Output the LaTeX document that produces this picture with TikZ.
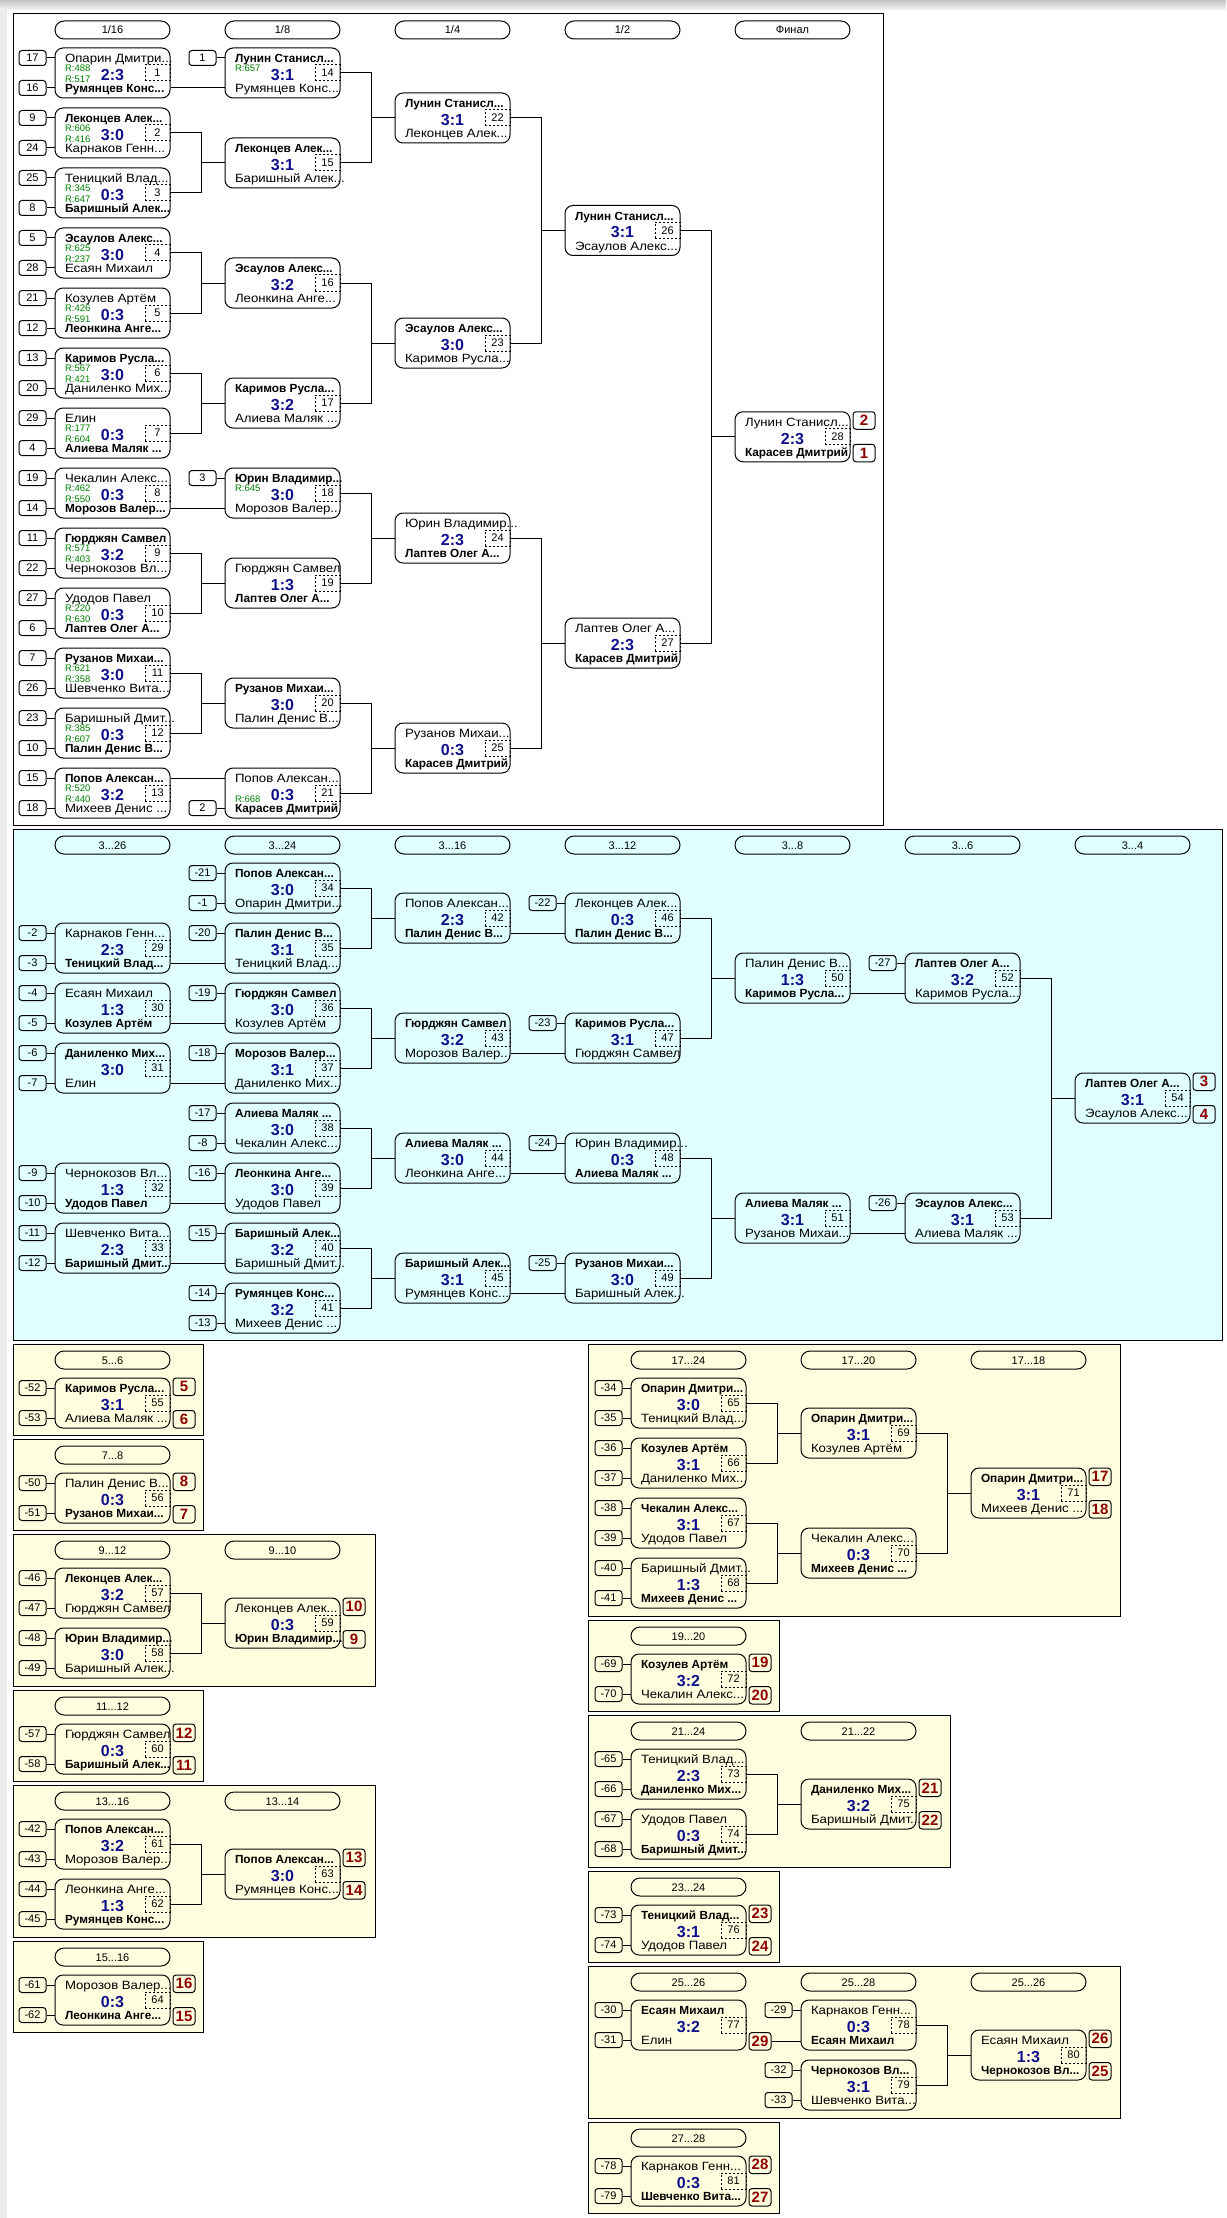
\documentclass[tikz,border=0pt]{standalone}
\usepackage{fontspec}
\setmainfont{Liberation Sans}
\newfontfamily\namefont[FakeStretch=1.1]{Liberation Sans}
\usepackage{tikz}
\usetikzlibrary{positioning, calc}

\definecolor{scoreblue}{RGB}{16,16,140}
\definecolor{rategreen}{RGB}{0,128,0}
\definecolor{placered}{RGB}{140,0,0}
\definecolor{lbcyan}{RGB}{224,255,255}
\definecolor{lowyellow}{RGB}{255,255,224}

\newcommand\wn[1]{{\normalfont\bfseries\fontsize{11.8}{13}\selectfont #1}}
% match: id, centre, top player, rating, score, rating, bottom player
\newcommand\match[7]{
  \node[mbox] (m#1) at #2 {};
  \node[pname] (m#1t) at ([xshift=10pt,yshift=14.5pt]m#1.west) {#3};
  \node[rate] (m#1x) at ([xshift=10pt,yshift=5pt]m#1.west) {#4};
  \node[score] (m#1s) at ([yshift=-2pt]m#1.center) {#5};
  \node[rate] (m#1y) at ([xshift=10pt,yshift=-5.7pt]m#1.west) {#6};
  \node[pname] (m#1b) at ([xshift=10pt,yshift=-15.5pt]m#1.west) {#7};
  \node[mnum, anchor=east] (m#1n) at (m#1.east) {#1};
}
\newcommand\seedt[2]{
  \node[seed, anchor=east] (s#1t) at ([xshift=-8pt,yshift=15pt]m#1.west) {#2};
  \draw (s#1t) -- (s#1t -| m#1.west);
}
\newcommand\seedb[2]{
  \node[seed, anchor=east] (s#1b) at ([xshift=-8pt,yshift=-15pt]m#1.west) {#2};
  \draw (s#1b) -- (s#1b -| m#1.west);
}
\newcommand\seeds[3]{\seedt{#1}{#2}\seedb{#1}{#3}}
\newcommand\places[3]{
  \node[plc, anchor=north west] (p#2) at ([xshift=2pt]m#1.north east) {#2};
  \node[plc, anchor=south west] (p#3) at ([xshift=2pt]m#1.south east) {#3};
}
% two matches into one
\newcommand\brk[3]{
  \draw (m#1.east) -| ([xshift=-23pt]m#3.west) |- (m#2.east);
  \draw ([xshift=-23pt]m#3.west) -- (m#3.west);
}
\newcommand\drct[3]{\draw ([yshift=#3]m#1.east) -- ([yshift=#3]m#2.west);}

\begin{document}
\begin{tikzpicture}[x=1pt, y=-1pt, line width=1pt,
    mbox/.style={draw, rounded corners=8pt, minimum width=115pt, minimum height=50pt, inner sep=0pt},
    pname/.style={anchor=west, inner sep=0pt, text height=8.6pt, text depth=0pt, font=\namefont\fontsize{12}{13}\selectfont},
    rate/.style={anchor=west, inner sep=0pt, text height=6.8pt, text depth=0pt, text=rategreen, font=\fontsize{9.5}{10}\selectfont},
    score/.style={inner sep=0pt, text=scoreblue, font=\bfseries\fontsize{16}{16}\selectfont},
    mnum/.style={draw, dash pattern=on 2pt off 2pt, minimum width=25pt, minimum height=16pt, inner sep=0pt, font=\fontsize{11}{12}\selectfont},
    seed/.style={draw, rounded corners=3pt, minimum width=27pt, minimum height=15pt, inner sep=0pt, font=\fontsize{11}{12}\selectfont},
    plc/.style={draw, rounded corners=3pt, minimum width=22pt, minimum height=17.5pt, inner sep=0pt, text=placered, font=\bfseries\fontsize{15}{15}\selectfont},
    hdr/.style={draw, rounded corners=9pt, minimum width=115pt, minimum height=18pt, inner sep=0pt, text height=8pt, text depth=0pt, font=\fontsize{11}{12}\selectfont}]

\useasboundingbox (0,0) rectangle (1226,2218);
\fill[white] (0,0) rectangle (1226,2218);
\shade[top color=gray!45, bottom color=gray!8] (0,0) rectangle (1226,10);
\fill[gray!15] (0,10) rectangle (7,2218);

% frames
\draw[fill=white] (13,14) rectangle (883,825);
\draw[fill=lbcyan] (13,829) rectangle (1222,1340);
\draw[fill=lowyellow] (13,1344) rectangle (203,1435);
\draw[fill=lowyellow] (13,1439) rectangle (203,1530);
\draw[fill=lowyellow] (13,1534) rectangle (375,1686);
\draw[fill=lowyellow] (13,1690) rectangle (203,1781);
\draw[fill=lowyellow] (13,1785) rectangle (375,1937);
\draw[fill=lowyellow] (13,1941) rectangle (203,2032);
\draw[fill=lowyellow] (588,1344) rectangle (1120,1616);
\draw[fill=lowyellow] (588,1620) rectangle (779,1711);
\draw[fill=lowyellow] (588,1715) rectangle (950,1867);
\draw[fill=lowyellow] (588,1871) rectangle (779,1962);
\draw[fill=lowyellow] (588,1966) rectangle (1120,2118);
\draw[fill=lowyellow] (588,2122) rectangle (779,2213);

% round titles
\node[hdr] (h1) at (112.5,30) {1/16};
\node[hdr] (h2) at (282.5,30) {1/8};
\node[hdr] (h3) at (452.5,30) {1/4};
\node[hdr] (h4) at (622.5,30) {1/2};
\node[hdr] (h5) at (792.5,30) {Финал};
\node[hdr] (h6) at (112.5,845) {3...26};
\node[hdr] (h7) at (282.5,845) {3...24};
\node[hdr] (h8) at (452.5,845) {3...16};
\node[hdr] (h9) at (622.5,845) {3...12};
\node[hdr] (h10) at (792.5,845) {3...8};
\node[hdr] (h11) at (962.5,845) {3...6};
\node[hdr] (h12) at (1132.5,845) {3...4};
\node[hdr] (h13) at (112.5,1360) {5...6};
\node[hdr] (h14) at (112.5,1455) {7...8};
\node[hdr] (h15) at (112.5,1550) {9...12};
\node[hdr] (h16) at (282.5,1550) {9...10};
\node[hdr] (h17) at (112.5,1706) {11...12};
\node[hdr] (h18) at (112.5,1801) {13...16};
\node[hdr] (h19) at (282.5,1801) {13...14};
\node[hdr] (h20) at (112.5,1957) {15...16};
\node[hdr] (h21) at (688.5,1360) {17...24};
\node[hdr] (h22) at (858.5,1360) {17...20};
\node[hdr] (h23) at (1028.5,1360) {17...18};
\node[hdr] (h24) at (688.5,1636) {19...20};
\node[hdr] (h25) at (688.5,1731) {21...24};
\node[hdr] (h26) at (858.5,1731) {21...22};
\node[hdr] (h27) at (688.5,1887) {23...24};
\node[hdr] (h28) at (688.5,1982) {25...26};
\node[hdr] (h29) at (858.5,1982) {25...28};
\node[hdr] (h30) at (1028.5,1982) {25...26};
\node[hdr] (h31) at (688.5,2138) {27...28};

% main draw
\match{1}{(112.5,73)}{Опарин Дмитри...}{R:488}{2:3}{R:517}{\wn{Румянцев Конс...}}
\match{2}{(112.5,133)}{\wn{Леконцев Алек...}}{R:606}{3:0}{R:416}{Карнаков Генн...}
\match{3}{(112.5,193)}{Теницкий Влад...}{R:345}{0:3}{R:647}{\wn{Баришный Алек...}}
\match{4}{(112.5,253)}{\wn{Эсаулов Алекс...}}{R:625}{3:0}{R:237}{Есаян Михаил}
\match{5}{(112.5,313)}{Козулев Артём}{R:426}{0:3}{R:591}{\wn{Леонкина Анге...}}
\match{6}{(112.5,373)}{\wn{Каримов Русла...}}{R:567}{3:0}{R:421}{Даниленко Мих...}
\match{7}{(112.5,433)}{Елин}{R:177}{0:3}{R:604}{\wn{Алиева Маляк ...}}
\match{8}{(112.5,493)}{Чекалин Алекс...}{R:462}{0:3}{R:550}{\wn{Морозов Валер...}}
\match{9}{(112.5,553)}{\wn{Гюрджян Самвел}}{R:571}{3:2}{R:403}{Чернокозов Вл...}
\match{10}{(112.5,613)}{Удодов Павел}{R:220}{0:3}{R:630}{\wn{Лаптев Олег А...}}
\match{11}{(112.5,673)}{\wn{Рузанов Михаи...}}{R:621}{3:0}{R:358}{Шевченко Вита...}
\match{12}{(112.5,733)}{Баришный Дмит...}{R:385}{0:3}{R:607}{\wn{Палин Денис В...}}
\match{13}{(112.5,793)}{\wn{Попов Алексан...}}{R:520}{3:2}{R:440}{Михеев Денис ...}
\seeds{1}{17}{16} \seeds{2}{9}{24} \seeds{3}{25}{8} \seeds{4}{5}{28}
\seeds{5}{21}{12} \seeds{6}{13}{20} \seeds{7}{29}{4} \seeds{8}{19}{14}
\seeds{9}{11}{22} \seeds{10}{27}{6} \seeds{11}{7}{26} \seeds{12}{23}{10}
\seeds{13}{15}{18}

\match{14}{($(m1)+(170,0)$)}{\wn{Лунин Станисл...}}{R:657}{3:1}{}{Румянцев Конс...}
\match{15}{($(m2)!.5!(m3)+(170,0)$)}{\wn{Леконцев Алек...}}{}{3:1}{}{Баришный Алек...}
\match{16}{($(m4)!.5!(m5)+(170,0)$)}{\wn{Эсаулов Алекс...}}{}{3:2}{}{Леонкина Анге...}
\match{17}{($(m6)!.5!(m7)+(170,0)$)}{\wn{Каримов Русла...}}{}{3:2}{}{Алиева Маляк ...}
\match{18}{($(m8)+(170,0)$)}{\wn{Юрин Владимир...}}{R:645}{3:0}{}{Морозов Валер...}
\match{19}{($(m9)!.5!(m10)+(170,0)$)}{Гюрджян Самвел}{}{1:3}{}{\wn{Лаптев Олег А...}}
\match{20}{($(m11)!.5!(m12)+(170,0)$)}{\wn{Рузанов Михаи...}}{}{3:0}{}{Палин Денис В...}
\match{21}{($(m13)+(170,0)$)}{Попов Алексан...}{}{0:3}{R:668}{\wn{Карасев Дмитрий}}
\seedt{14}{1} \seedt{18}{3} \seedb{21}{2}
\drct{1}{14}{-15pt} \drct{8}{18}{-15pt} \drct{13}{21}{15pt}
\brk{2}{3}{15} \brk{4}{5}{16} \brk{6}{7}{17} \brk{9}{10}{19} \brk{11}{12}{20}

\match{22}{($(m14)!.5!(m15)+(170,0)$)}{\wn{Лунин Станисл...}}{}{3:1}{}{Леконцев Алек...}
\match{23}{($(m16)!.5!(m17)+(170,0)$)}{\wn{Эсаулов Алекс...}}{}{3:0}{}{Каримов Русла...}
\match{24}{($(m18)!.5!(m19)+(170,0)$)}{Юрин Владимир...}{}{2:3}{}{\wn{Лаптев Олег А...}}
\match{25}{($(m20)!.5!(m21)+(170,0)$)}{Рузанов Михаи...}{}{0:3}{}{\wn{Карасев Дмитрий}}
\brk{14}{15}{22} \brk{16}{17}{23} \brk{18}{19}{24} \brk{20}{21}{25}
\match{26}{($(m22)!.5!(m23)+(170,0)$)}{\wn{Лунин Станисл...}}{}{3:1}{}{Эсаулов Алекс...}
\match{27}{($(m24)!.5!(m25)+(170,0)$)}{Лаптев Олег А...}{}{2:3}{}{\wn{Карасев Дмитрий}}
\brk{22}{23}{26} \brk{24}{25}{27}
\match{28}{($(m26)!.5!(m27)+(170,0)$)}{Лунин Станисл...}{}{2:3}{}{\wn{Карасев Дмитрий}}
\brk{26}{27}{28}
\places{28}{2}{1}

% third place draw
\match{34}{(282.5,888)}{\wn{Попов Алексан...}}{}{3:0}{}{Опарин Дмитри...}
\match{35}{(282.5,948)}{\wn{Палин Денис В...}}{}{3:1}{}{Теницкий Влад...}
\match{36}{(282.5,1008)}{\wn{Гюрджян Самвел}}{}{3:0}{}{Козулев Артём}
\match{37}{(282.5,1068)}{\wn{Морозов Валер...}}{}{3:1}{}{Даниленко Мих...}
\match{38}{(282.5,1128)}{\wn{Алиева Маляк ...}}{}{3:0}{}{Чекалин Алекс...}
\match{39}{(282.5,1188)}{\wn{Леонкина Анге...}}{}{3:0}{}{Удодов Павел}
\match{40}{(282.5,1248)}{\wn{Баришный Алек...}}{}{3:2}{}{Баришный Дмит...}
\match{41}{(282.5,1308)}{\wn{Румянцев Конс...}}{}{3:2}{}{Михеев Денис ...}
\match{29}{(112.5,948)}{Карнаков Генн...}{}{2:3}{}{\wn{Теницкий Влад...}}
\match{30}{(112.5,1008)}{Есаян Михаил}{}{1:3}{}{\wn{Козулев Артём}}
\match{31}{(112.5,1068)}{\wn{Даниленко Мих...}}{}{3:0}{}{Елин}
\match{32}{(112.5,1188)}{Чернокозов Вл...}{}{1:3}{}{\wn{Удодов Павел}}
\match{33}{(112.5,1248)}{Шевченко Вита...}{}{2:3}{}{\wn{Баришный Дмит...}}
\seeds{34}{-21}{-1} \seedt{35}{-20} \seeds{29}{-2}{-3}
\seeds{30}{-4}{-5} \seedt{36}{-19} \seeds{31}{-6}{-7} \seedt{37}{-18}
\seeds{38}{-17}{-8} \seeds{32}{-9}{-10} \seedt{39}{-16}
\seeds{33}{-11}{-12} \seedt{40}{-15} \seeds{41}{-14}{-13}
\drct{29}{35}{-15pt} \drct{30}{36}{-15pt} \drct{31}{37}{-15pt}
\drct{32}{39}{-15pt} \drct{33}{40}{-15pt}

\match{42}{($(m34)!.5!(m35)+(170,0)$)}{Попов Алексан...}{}{2:3}{}{\wn{Палин Денис В...}}
\match{43}{($(m36)!.5!(m37)+(170,0)$)}{\wn{Гюрджян Самвел}}{}{3:2}{}{Морозов Валер...}
\match{44}{($(m38)!.5!(m39)+(170,0)$)}{\wn{Алиева Маляк ...}}{}{3:0}{}{Леонкина Анге...}
\match{45}{($(m40)!.5!(m41)+(170,0)$)}{\wn{Баришный Алек...}}{}{3:1}{}{Румянцев Конс...}
\brk{34}{35}{42} \brk{36}{37}{43} \brk{38}{39}{44} \brk{40}{41}{45}
\match{46}{($(m42)+(170,0)$)}{Леконцев Алек...}{}{0:3}{}{\wn{Палин Денис В...}}
\match{47}{($(m43)+(170,0)$)}{\wn{Каримов Русла...}}{}{3:1}{}{Гюрджян Самвел}
\match{48}{($(m44)+(170,0)$)}{Юрин Владимир...}{}{0:3}{}{\wn{Алиева Маляк ...}}
\match{49}{($(m45)+(170,0)$)}{\wn{Рузанов Михаи...}}{}{3:0}{}{Баришный Алек...}
\seedt{46}{-22} \seedt{47}{-23} \seedt{48}{-24} \seedt{49}{-25}
\drct{42}{46}{-15pt} \drct{43}{47}{-15pt} \drct{44}{48}{-15pt} \drct{45}{49}{-15pt}
\match{50}{($(m46)!.5!(m47)+(170,0)$)}{Палин Денис В...}{}{1:3}{}{\wn{Каримов Русла...}}
\match{51}{($(m48)!.5!(m49)+(170,0)$)}{\wn{Алиева Маляк ...}}{}{3:1}{}{Рузанов Михаи...}
\brk{46}{47}{50} \brk{48}{49}{51}
\match{52}{($(m50)+(170,0)$)}{\wn{Лаптев Олег А...}}{}{3:2}{}{Каримов Русла...}
\match{53}{($(m51)+(170,0)$)}{\wn{Эсаулов Алекс...}}{}{3:1}{}{Алиева Маляк ...}
\seedt{52}{-27} \seedt{53}{-26}
\drct{50}{52}{-15pt} \drct{51}{53}{-15pt}
\match{54}{($(m52)!.5!(m53)+(170,0)$)}{\wn{Лаптев Олег А...}}{}{3:1}{}{Эсаулов Алекс...}
\brk{52}{53}{54}
\places{54}{3}{4}

% places 5 to 16
\match{55}{(112.5,1403)}{\wn{Каримов Русла...}}{}{3:1}{}{Алиева Маляк ...}
\seeds{55}{-52}{-53} \places{55}{5}{6}
\match{56}{(112.5,1498)}{Палин Денис В...}{}{0:3}{}{\wn{Рузанов Михаи...}}
\seeds{56}{-50}{-51} \places{56}{8}{7}
\match{57}{(112.5,1593)}{\wn{Леконцев Алек...}}{}{3:2}{}{Гюрджян Самвел}
\match{58}{(112.5,1653)}{\wn{Юрин Владимир...}}{}{3:0}{}{Баришный Алек...}
\match{59}{($(m57)!.5!(m58)+(170,0)$)}{Леконцев Алек...}{}{0:3}{}{\wn{Юрин Владимир...}}
\seeds{57}{-46}{-47} \seeds{58}{-48}{-49} \brk{57}{58}{59} \places{59}{10}{9}
\match{60}{(112.5,1749)}{Гюрджян Самвел}{}{0:3}{}{\wn{Баришный Алек...}}
\seeds{60}{-57}{-58} \places{60}{12}{11}
\match{61}{(112.5,1844)}{\wn{Попов Алексан...}}{}{3:2}{}{Морозов Валер...}
\match{62}{(112.5,1904)}{Леонкина Анге...}{}{1:3}{}{\wn{Румянцев Конс...}}
\match{63}{($(m61)!.5!(m62)+(170,0)$)}{\wn{Попов Алексан...}}{}{3:0}{}{Румянцев Конс...}
\seeds{61}{-42}{-43} \seeds{62}{-44}{-45} \brk{61}{62}{63} \places{63}{13}{14}
\match{64}{(112.5,2000)}{Морозов Валер...}{}{0:3}{}{\wn{Леонкина Анге...}}
\seeds{64}{-61}{-62} \places{64}{16}{15}

% places 17 to 28
\match{65}{(688.5,1403)}{\wn{Опарин Дмитри...}}{}{3:0}{}{Теницкий Влад...}
\match{66}{(688.5,1463)}{\wn{Козулев Артём}}{}{3:1}{}{Даниленко Мих...}
\match{67}{(688.5,1523)}{\wn{Чекалин Алекс...}}{}{3:1}{}{Удодов Павел}
\match{68}{(688.5,1583)}{Баришный Дмит...}{}{1:3}{}{\wn{Михеев Денис ...}}
\seeds{65}{-34}{-35} \seeds{66}{-36}{-37} \seeds{67}{-38}{-39} \seeds{68}{-40}{-41}
\match{69}{($(m65)!.5!(m66)+(170,0)$)}{\wn{Опарин Дмитри...}}{}{3:1}{}{Козулев Артём}
\match{70}{($(m67)!.5!(m68)+(170,0)$)}{Чекалин Алекс...}{}{0:3}{}{\wn{Михеев Денис ...}}
\brk{65}{66}{69} \brk{67}{68}{70}
\match{71}{($(m69)!.5!(m70)+(170,0)$)}{\wn{Опарин Дмитри...}}{}{3:1}{}{Михеев Денис ...}
\brk{69}{70}{71} \places{71}{17}{18}
\match{72}{(688.5,1679)}{\wn{Козулев Артём}}{}{3:2}{}{Чекалин Алекс...}
\seeds{72}{-69}{-70} \places{72}{19}{20}
\match{73}{(688.5,1774)}{Теницкий Влад...}{}{2:3}{}{\wn{Даниленко Мих...}}
\match{74}{(688.5,1834)}{Удодов Павел}{}{0:3}{}{\wn{Баришный Дмит...}}
\match{75}{($(m73)!.5!(m74)+(170,0)$)}{\wn{Даниленко Мих...}}{}{3:2}{}{Баришный Дмит...}
\seeds{73}{-65}{-66} \seeds{74}{-67}{-68} \brk{73}{74}{75} \places{75}{21}{22}
\match{76}{(688.5,1930)}{\wn{Теницкий Влад...}}{}{3:1}{}{Удодов Павел}
\seeds{76}{-73}{-74} \places{76}{23}{24}
\match{77}{(688.5,2025)}{\wn{Есаян Михаил}}{}{3:2}{}{Елин}
\match{78}{($(m77)+(170,0)$)}{Карнаков Генн...}{}{0:3}{}{\wn{Есаян Михаил}}
\match{79}{(858.5,2085)}{\wn{Чернокозов Вл...}}{}{3:1}{}{Шевченко Вита...}
\seeds{77}{-30}{-31} \seedt{78}{-29} \seeds{79}{-32}{-33}
\node[plc, anchor=south west] (p29) at ([xshift=2pt]m77.south east) {29};
\draw (p29) -- (p29 -| m78.west);
\match{80}{($(m78)!.5!(m79)+(170,0)$)}{Есаян Михаил}{}{1:3}{}{\wn{Чернокозов Вл...}}
\brk{78}{79}{80} \places{80}{26}{25}
\match{81}{(688.5,2181)}{Карнаков Генн...}{}{0:3}{}{\wn{Шевченко Вита...}}
\seeds{81}{-78}{-79} \places{81}{28}{27}
\end{tikzpicture}
\end{document}
